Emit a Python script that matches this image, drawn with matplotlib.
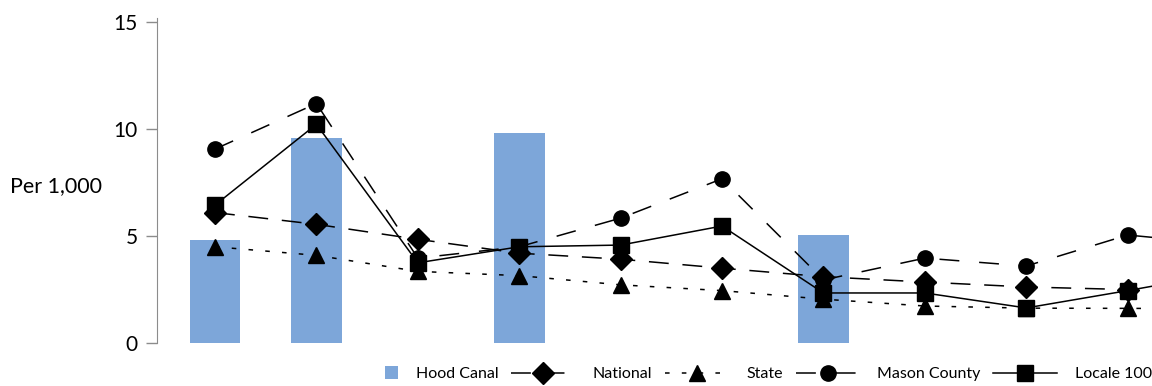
import numpy as np
import matplotlib.pyplot as plt
from matplotlib.patches import Rectangle
from matplotlib.container import BarContainer
from matplotlib.legend_handler import HandlerPatch, update_from_first_child

plt.rcParams['font.family'] = ['Lato', 'DejaVu Sans']

# data (last point is only partly visible at the right edge)
x = np.arange(11)
hood_canal = [4.8, 9.6, np.nan, 9.8, np.nan, np.nan, 5.05, np.nan, np.nan, np.nan, np.nan]
national = [6.1, 5.55, 4.85, 4.2, 3.92, 3.5, 3.1, 2.85, 2.62, 2.5, 2.4]
state = [4.5, 4.1, 3.35, 3.15, 2.72, 2.45, 2.05, 1.73, 1.63, 1.62, 1.6]
mason = [9.07, 11.2, 3.97, 4.5, 5.84, 7.68, 2.95, 3.97, 3.6, 5.05, 4.6]
locale = [6.45, 10.23, 3.75, 4.5, 4.58, 5.47, 2.34, 2.34, 1.64, 2.45, 3.3]

bar_color = '#7da6d9'
spine_color = '#8c8c8c'

fig = plt.figure(figsize=(11.52, 3.86), dpi=100)
ax = fig.add_axes([157 / 1152, 1 - 343 / 386, (1152 - 157) / 1152, (343 - 18) / 386])

ax.bar(x, hood_canal, width=0.5, color=bar_color, label='Hood Canal', zorder=1)
ax.plot(x, national, color='black', lw=1.1, dashes=(13, 9), marker='D', ms=11,
        label='National', zorder=3)
ax.plot(x, state, color='black', lw=1.1, dashes=(3, 8), marker='^', ms=11,
        label='State', zorder=3)
ax.plot(x, mason, color='black', lw=1.1, dashes=(13, 13), marker='o', ms=11,
        label='Mason County', zorder=3)
ax.plot(x, locale, color='black', lw=1.1, marker='s', ms=11,
        label='Locale 100', zorder=3)

ax.set_xlim(-0.572, 9.24)
ax.set_ylim(0, 15.2)
ax.set_yticks([0, 5, 10, 15])
ax.set_xticks([])
for s in ['top', 'right', 'bottom']:
    ax.spines[s].set_visible(False)
ax.spines['left'].set_color(spine_color)
ax.tick_params(axis='y', colors=spine_color, length=8, width=1, labelsize=15,
               labelcolor='black', pad=6)

fig.text(10 / 1152, 1 - 186 / 386, 'Per 1,000', fontsize=15.5, va='center', ha='left')


# small square for the bar entry, pushed to the right end of the handle box
def small_square(legend, orig_handle, xdescent, ydescent, width, height, fontsize):
    s = 9.5
    return Rectangle((-xdescent + width - s, -ydescent + (height - s) / 2), s, s)


handles, labels = ax.get_legend_handles_labels()
order = [labels.index(l) for l in ['Hood Canal', 'National', 'State', 'Mason County', 'Locale 100']]
fig.legend([handles[i] for i in order], [labels[i] for i in order],
           loc='center right', bbox_to_anchor=(1.0, 1 - 374 / 386), ncol=5,
           frameon=False, fontsize=11.5, handlelength=4.0, handletextpad=1.1,
           columnspacing=0.8, borderaxespad=0, borderpad=0,
           handler_map={BarContainer: HandlerPatch(patch_func=small_square,
                                                   update_func=update_from_first_child)})

fig.savefig('out.png', dpi=100)
